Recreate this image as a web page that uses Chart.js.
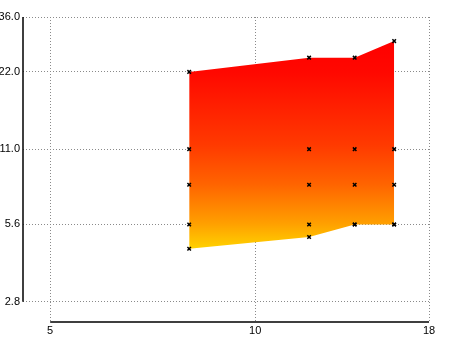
<!DOCTYPE html>
<html>
<head>
<meta charset="utf-8">
<script src="https://cdn.jsdelivr.net/npm/chart.js@4/dist/chart.umd.min.js"></script>
<style>
  html, body { margin: 0; padding: 0; background: #fff; }
  #wrap { width: 450px; height: 337px; }
</style>
</head>
<body>
<div id="wrap"><canvas id="chart"></canvas></div>
<script>
// values (log x / log y)
const xValues = [8, 12, 14, 16];
const upperBand = [22, 25, 25, 29];
const lowerBand = [4.5, 5, 5.6, 5.6];
const row11 = [11, 11, 11, 11];
const row8 = [8, 8, 8, 8];
const row56 = [5.6, 5.6, 5.6, 5.6];

const xTicks = [5, 10, 18];
const yTicks = [2.8, 5.6, 11, 22, 36];

const toPoints = (ys) => xValues.map((x, i) => ({ x: x, y: ys[i] }));

const markerStyle = {
    showLine: false,
    pointStyle: 'crossRot',
    pointRadius: 2.5,
    pointBorderWidth: 1.5,
    pointBorderColor: '#000',
    pointBackgroundColor: '#000'
};

// vertical red -> gold gradient spanning the band
const bandGradient = (context) => {
    const chart = context.chart;
    const area = chart.chartArea;
    if (!area) return 'red';
    const yScale = chart.scales.y;
    const top = yScale.getPixelForValue(Math.max(...upperBand));
    const bottom = yScale.getPixelForValue(Math.min(...lowerBand));
    const g = chart.ctx.createLinearGradient(0, top, 0, bottom);
    g.addColorStop(0, '#ff0000');
    g.addColorStop(0.15, '#ff0800');
    g.addColorStop(0.5, '#ff3a00');
    g.addColorStop(0.69, '#ff6400');
    g.addColorStop(0.88, '#ffa000');
    g.addColorStop(1, '#ffd200');
    return g;
};

// axis lines only run between the first and last tick
const rangeFrame = {
    id: 'rangeFrame',
    afterDraw(chart) {
        const { ctx, chartArea, scales } = chart;
        ctx.save();
        ctx.strokeStyle = '#000';
        ctx.lineWidth = 1.5;
        ctx.beginPath();
        ctx.moveTo(chartArea.left, scales.y.getPixelForValue(yTicks[yTicks.length - 1]));
        ctx.lineTo(chartArea.left, scales.y.getPixelForValue(yTicks[0]));
        ctx.moveTo(scales.x.getPixelForValue(xTicks[0]), chartArea.bottom);
        ctx.lineTo(scales.x.getPixelForValue(xTicks[xTicks.length - 1]), chartArea.bottom);
        ctx.stroke();
        ctx.restore();
    }
};

const gridStyle = {
    color: '#8a8a8a',
    lineWidth: 1,
    drawTicks: false
};

new Chart(document.getElementById('chart'), {
    type: 'scatter',
    data: {
        datasets: [
            {
                label: 'upper',
                data: toPoints(upperBand),
                ...markerStyle,
                showLine: true,
                borderWidth: 0,
                borderColor: 'rgba(0,0,0,0)',
                tension: 0
            },
            {
                label: 'lower',
                data: toPoints(lowerBand),
                ...markerStyle,
                showLine: true,
                borderWidth: 0,
                borderColor: 'rgba(0,0,0,0)',
                backgroundColor: bandGradient,
                fill: '-1',
                tension: 0
            },
            { label: '11', data: toPoints(row11), ...markerStyle },
            { label: '8', data: toPoints(row8), ...markerStyle },
            { label: '5.6', data: toPoints(row56), ...markerStyle }
        ]
    },
    options: {
        responsive: true,
        maintainAspectRatio: false,
        animation: false,
        layout: { padding: { top: 17, right: 21, left: 0, bottom: 0 } },
        plugins: {
            legend: { display: false },
            tooltip: { enabled: false },
            filler: { drawTime: 'beforeDatasetsDraw' }
        },
        scales: {
            x: {
                type: 'logarithmic',
                min: 4.561,
                max: 18,
                z: 1,
                afterBuildTicks: (scale) => { scale.ticks = xTicks.map(v => ({ value: v })); },
                afterFit: (scale) => { scale.height = 15; },
                border: { display: false, dash: [1, 2] },
                grid: gridStyle,
                ticks: {
                    color: '#000',
                    font: { family: 'Liberation Sans, Arial, sans-serif', size: 11 },
                    padding: 2,
                    maxRotation: 0,
                    autoSkip: false,
                    callback: (v) => String(v)
                }
            },
            y: {
                type: 'logarithmic',
                min: 2.334,
                max: 36,
                z: 1,
                afterBuildTicks: (scale) => { scale.ticks = yTicks.map(v => ({ value: v })); },
                afterFit: (scale) => { scale.width = 23; },
                border: { display: false, dash: [1, 2] },
                grid: gridStyle,
                ticks: {
                    color: '#000',
                    font: { family: 'Liberation Sans, Arial, sans-serif', size: 11 },
                    padding: 3,
                    autoSkip: false,
                    callback: (v) => Number(v).toFixed(1)
                }
            }
        }
    },
    plugins: [rangeFrame]
});
</script>
</body>
</html>
